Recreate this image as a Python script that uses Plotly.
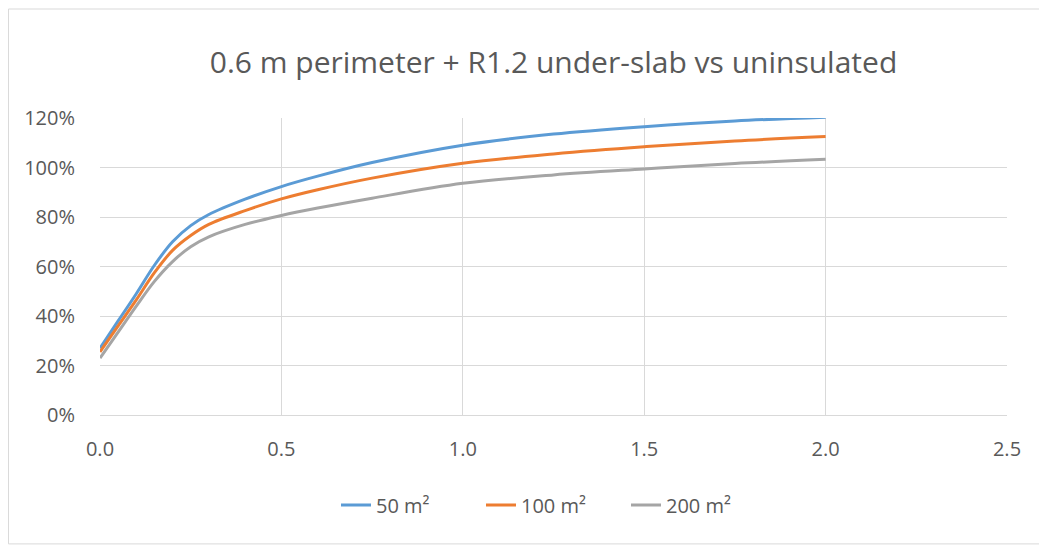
import plotly.graph_objects as go

# Data
x_vals = [0, 0.05, 0.1, 0.15, 0.2, 0.25, 0.3, 0.4, 0.5, 0.6, 0.75, 1.0, 1.25, 1.5, 1.75, 2.0]
s50 = [27, 38, 49, 60.5, 70, 76.5, 81, 87.2, 92.3, 96.5, 102, 109, 113.5, 116.5, 118.8, 120.3]
s100 = [25.5, 36, 46.5, 57.5, 66.5, 72.5, 77, 82.6, 87.3, 91, 95.7, 101.7, 105.5, 108.4, 110.7, 112.5]
s200 = [23, 33.5, 44, 54, 62, 68, 72, 77, 80.6, 83.6, 87.6, 93.6, 97, 99.4, 101.6, 103.3]
series_names = ["50 m²", "100 m²", "200 m²"]
colors = ["#5B9BD5", "#ED7D31", "#A5A5A5"]
title_text = "0.6 m perimeter + R1.2 under-slab vs uninsulated"

FONT = "Open Sans"
TICK_COLOR = "#595959"
GRID = "#D9D9D9"

W, H = 1039, 538
ML, MR, MT, MB = 92, 40, 110, 131

fig = go.Figure()
for name, vals, col in zip(series_names, [s50, s100, s200], colors):
    fig.add_trace(go.Scatter(
        x=x_vals, y=[v / 100 for v in vals], mode="lines", name=name,
        line=dict(color=col, width=3, shape="spline", smoothing=1.0),
    ))

fig.update_layout(
    width=W, height=H,
    margin=dict(l=ML, r=MR, t=MT, b=MB),
    paper_bgcolor="white", plot_bgcolor="white",
    title=dict(text=title_text, x=0.5, xanchor="center", xref="paper",
               y=1 - 54 / H, yanchor="middle", yref="container",
               font=dict(family=FONT, size=30, color="#595959")),
    font=dict(family=FONT, size=20, color=TICK_COLOR),
    showlegend=True,
    legend=dict(orientation="h", x=0.50, xanchor="center", y=-0.303, yanchor="middle",
                font=dict(family=FONT, size=20, color=TICK_COLOR),
                entrywidth=100, entrywidthmode="pixels",
                tracegroupgap=0),
    xaxis=dict(range=[0, 2.5], dtick=0.5, tick0=0, tickformat=".1f",
               showgrid=True, gridcolor=GRID, gridwidth=1,
               showline=True, linecolor=GRID, linewidth=1, mirror=False,
               zeroline=False, ticks="outside", ticklen=16, tickcolor="rgba(0,0,0,0)",
               tickfont=dict(family=FONT, size=20, color=TICK_COLOR)),
    yaxis=dict(range=[0, 1.2], dtick=0.2, tick0=0, tickformat=".0%",
               showgrid=True, gridcolor=GRID, gridwidth=1,
               showline=False, zeroline=False, ticks="outside", ticklen=20,
               tickcolor="rgba(0,0,0,0)",
               tickfont=dict(family=FONT, size=20, color=TICK_COLOR)),
    shapes=[dict(type="rect", xref="paper", yref="paper",
                 x0=-0.1009, x1=1.043, y0=-0.434, y1=1.367,
                 line=dict(color=GRID, width=1), fillcolor="rgba(0,0,0,0)",
                 layer="below")],
)

fig.write_html("out.html")
